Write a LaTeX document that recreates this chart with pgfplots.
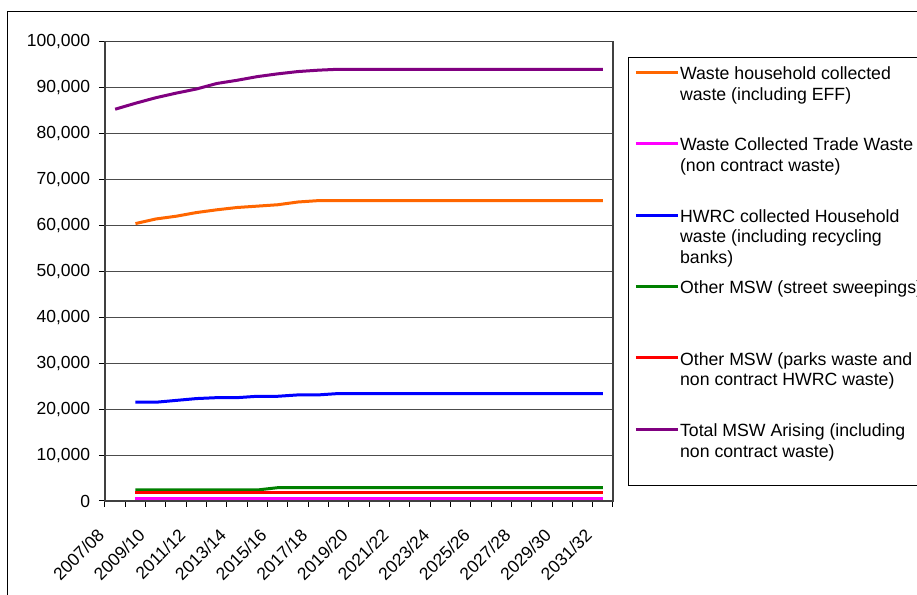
\documentclass[border=0pt]{standalone}
\usepackage{fontspec}
\setmainfont{Liberation Sans}
\usepackage{pgfplots}
\pgfplotsset{compat=1.18}

\definecolor{hhorange}{HTML}{FF6600}
\definecolor{trademag}{HTML}{FF00FF}
\definecolor{hwrcblue}{HTML}{0000FF}
\definecolor{sweepgreen}{HTML}{008000}
\definecolor{parksred}{HTML}{FF0000}
\definecolor{totalpurple}{HTML}{800080}

% one legend slot: first baseline at the top strut, fixed total height
\newcommand\legslot[2]{\vtop to #1{#2\vss}}
\newcommand\lgl[1]{\hbox{\strut #1}}

\begin{document}
\begin{tikzpicture}
\useasboundingbox (0,0) rectangle (458.5pt,297.5pt);
\fill[white] (0,0) rectangle (458.5pt,297.5pt);
% outer chart frame
\draw[line width=0.65pt] (3.75pt,-10pt) -- (3.75pt,291.65pt) -- (480pt,291.65pt);

\begin{axis}[
  at={(52.5pt,47pt)}, anchor=south west,
  scale only axis, width=254pt, height=229.65pt,
  xmin=-0.5, xmax=24.5, ymin=0, ymax=100000,
  axis line style={black!75, line width=0.6pt},
  tick align=outside, major tick length=3pt, minor tick length=3pt,
  tick style={black, line width=0.5pt},
  xtick pos=bottom, ytick pos=left,
  xtick={0,2,...,24},
  xticklabels={2007/08,2009/10,2011/12,2013/14,2015/16,2017/18,2019/20,2021/22,2023/24,2025/26,2027/28,2029/30,2031/32},
  major x tick style={draw=none},
  minor xtick={-0.5,0.5,...,24.5},
  ytick={0,10000,20000,30000,40000,50000,60000,70000,80000,90000,100000},
  yticklabels={0,{10,000},{20,000},{30,000},{40,000},{50,000},{60,000},{70,000},{80,000},{90,000},{100,000}},
  ymajorgrids, major grid style={black!70, line width=0.5pt},
  scaled y ticks=false,
  tick label style={font=\fontsize{8.75}{10.5}\selectfont},
  yticklabel style={anchor=east, inner sep=0pt, xshift=-4.25pt},
  xticklabel style={xshift=-7pt, yshift=-12.5pt, rotate=45, anchor=east, inner sep=0pt},
  legend style={at={(1.0295,0.9667)}, anchor=north west,
    draw=black, line width=0.5pt,
    inner xsep=3pt, inner ysep=3.75pt,
    column sep=0pt, row sep=0pt,
    nodes={inner xsep=0.3pt, inner ysep=0pt, text depth=, text height=},
    cells={anchor=base west},
    font=\fontsize{8.85}{10.35}\selectfont},
  legend image code/.code={\draw[#1] (0pt,3.6pt) -- (21pt,3.6pt);},
]
\addplot[hhorange, line width=1.5pt] coordinates {
  (1,60400)(2,61400)(3,62000)(4,62800)(5,63400)(6,63900)(7,64200)(8,64500)
  (9,65100)(10,65400)(11,65400)(12,65400)(13,65400)(14,65400)(15,65400)(16,65400)
  (17,65400)(18,65400)(19,65400)(20,65400)(21,65400)(22,65400)(23,65400)(24,65400)};
\addlegendentry{\legslot{35.7pt}{\lgl{Waste household collected}\lgl{waste (including EFF)}}}

\addplot[trademag, line width=1.5pt] coordinates {
  (1,600)(2,600)(3,600)(4,600)(5,600)(6,600)(7,600)(8,600)
  (9,600)(10,600)(11,600)(12,600)(13,600)(14,600)(15,600)(16,600)
  (17,600)(18,600)(19,600)(20,600)(21,600)(22,600)(23,600)(24,600)};
\addlegendentry{\legslot{35.7pt}{\lgl{Waste Collected Trade Waste}\lgl{(non contract waste)}}}

\addplot[hwrcblue, line width=1.5pt] coordinates {
  (1,21500)(2,21500)(3,21900)(4,22300)(5,22500)(6,22500)(7,22800)(8,22800)
  (9,23100)(10,23100)(11,23400)(12,23400)(13,23400)(14,23400)(15,23400)(16,23400)
  (17,23400)(18,23400)(19,23400)(20,23400)(21,23400)(22,23400)(23,23400)(24,23400)};
\addlegendentry{\legslot{35.7pt}{\lgl{HWRC collected Household}\lgl{waste (including recycling}\lgl{banks)}}}

\addplot[sweepgreen, line width=1.5pt] coordinates {
  (1,2400)(2,2400)(3,2400)(4,2400)(5,2400)(6,2400)(7,2400)(8,2900)
  (9,2900)(10,2900)(11,2900)(12,2900)(13,2900)(14,2900)(15,2900)(16,2900)
  (17,2900)(18,2900)(19,2900)(20,2900)(21,2900)(22,2900)(23,2900)(24,2900)};
\addlegendentry{\legslot{35.7pt}{\lgl{Other MSW (street sweepings)}}}

\addplot[parksred, line width=1.5pt] coordinates {
  (1,1850)(2,1850)(3,1850)(4,1850)(5,1850)(6,1850)(7,1850)(8,1850)
  (9,1850)(10,1850)(11,1850)(12,1850)(13,1850)(14,1850)(15,1850)(16,1850)
  (17,1850)(18,1850)(19,1850)(20,1850)(21,1850)(22,1850)(23,1850)(24,1850)};
\addlegendentry{\legslot{35.7pt}{\lgl{Other MSW (parks waste and}\lgl{non contract HWRC waste)}}}

\addplot[totalpurple, line width=1.5pt] coordinates {
  (0,85300)(1,86600)(2,87800)(3,88800)(4,89700)(5,90900)(6,91600)(7,92400)(8,93000)
  (9,93500)(10,93800)(11,94000)(12,94000)(13,94000)(14,94000)(15,94000)(16,94000)
  (17,94000)(18,94000)(19,94000)(20,94000)(21,94000)(22,94000)(23,94000)(24,94000)};
\addlegendentry{\legslot{27.85pt}{\lgl{Total MSW Arising (including}\lgl{non contract waste)}}}
\end{axis}
\end{tikzpicture}
\end{document}
